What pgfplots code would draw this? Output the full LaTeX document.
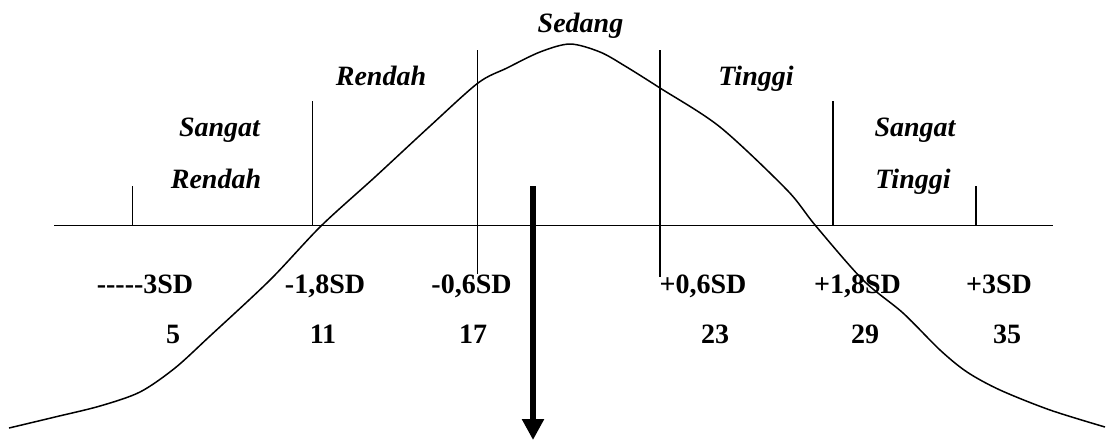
\documentclass[border=0pt]{standalone}
\usepackage{fontspec}
\setmainfont{Liberation Serif}
\usepackage{pgfplots}
\pgfplotsset{compat=1.18}
\usetikzlibrary{arrows.meta}

\begin{document}
\begin{tikzpicture}[
  lbl/.style={font=\fontsize{14}{16}\selectfont\bfseries, anchor=base, inner sep=0pt},
  cat/.style={font=\fontsize{14}{16}\selectfont\bfseries\itshape, anchor=base, inner sep=0pt},
]
\begin{axis}[
  width=553pt, height=220.5pt, scale only axis,
  xmin=0, xmax=1106, ymin=0, ymax=441, y dir=reverse,
  hide axis, clip=false,
  every axis plot/.append style={black, line width=0.75pt},
]
\path (rel axis cs:0,0) (rel axis cs:1,1);

% base line and boundaries
\addplot[black] coordinates {(54,225.5) (1053,225.5)};
\addplot[black] coordinates {(132.5,186) (132.5,225.5)};
\addplot[black] coordinates {(312.5,101) (312.5,225.5)};
\addplot[black] coordinates {(477.5,50) (477.5,274)};
\addplot[black] coordinates {(660,50) (660,277)};
\addplot[black] coordinates {(833,101) (833,225.5)};
\addplot[black] coordinates {(976,186) (976,225.5)};

% curve
\addplot[black, smooth] coordinates {
  (9,428) (55,417) (100,406) (140,392) (175,368) (210,336)
  (270,280) (321,226) (375,177) (429,127) (478,83)
  (507,68) (540,52) (570,44) (600,52) (625,66) (660,88)
  (720,127) (787,190) (815,225) (863,280) (903,313)
  (940,350) (967,372) (1000,390) (1050,410) (1105,427)
};

% arrow
\addplot[black, line width=3pt, -{Triangle[width=10.5pt,length=10.5pt]}]
  coordinates {(533,186) (533,440)};

% category labels
\node[cat] at (axis cs:580.5,32) {Sedang};
\node[cat] at (axis cs:381,85) {Rendah};
\node[cat] at (axis cs:756,85) {Tinggi};
\node[cat] at (axis cs:219.5,136) {Sangat};
\node[cat] at (axis cs:216,188) {Rendah};
\node[cat] at (axis cs:915,136) {Sangat};
\node[cat] at (axis cs:913,188) {Tinggi};

% SD labels
\node[lbl] at (axis cs:145,293) {-{}-{}-{}-{}-3SD};
\node[lbl] at (axis cs:325,293) {-1,8SD};
\node[lbl] at (axis cs:471.5,293) {-0,6SD};
\node[lbl] at (axis cs:703,293) {+0,6SD};
\node[lbl] at (axis cs:857.5,293) {+1,8SD};
\node[lbl] at (axis cs:999,293) {+3SD};

% scores
\node[lbl] at (axis cs:173,343) {5};
\node[lbl] at (axis cs:323,343) {11};
\node[lbl] at (axis cs:473,343) {17};
\node[lbl] at (axis cs:715,343) {23};
\node[lbl] at (axis cs:865,343) {29};
\node[lbl] at (axis cs:1007,343) {35};
\end{axis}
\end{tikzpicture}
\end{document}
